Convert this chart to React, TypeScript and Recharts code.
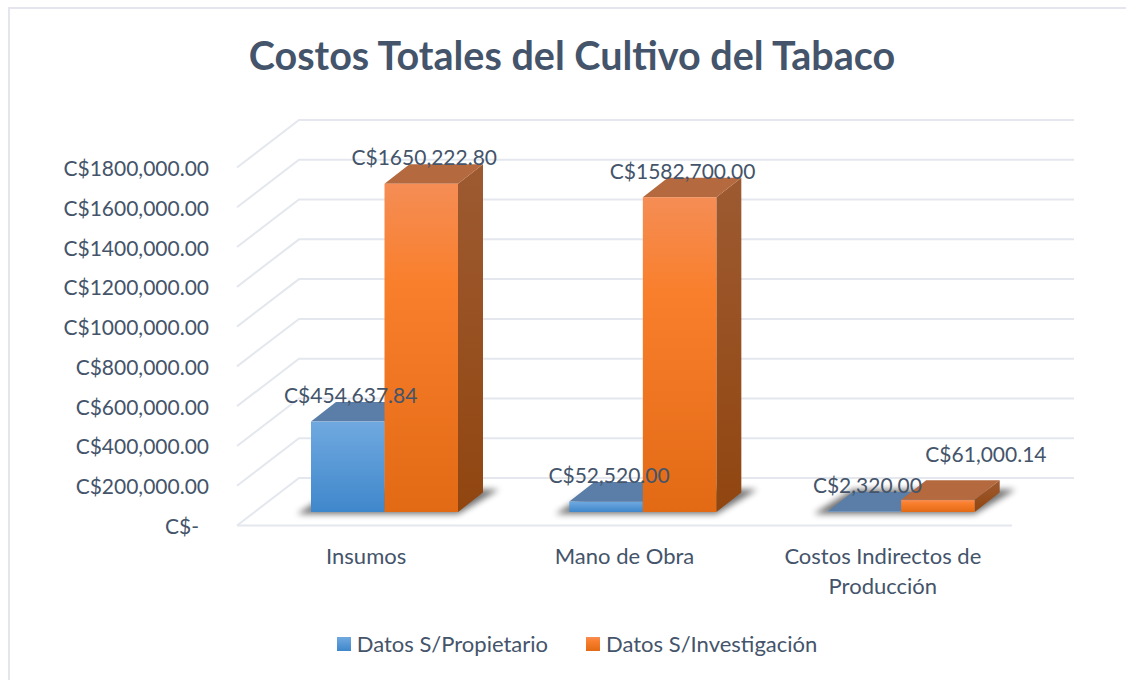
import { BarChart, Bar, XAxis, YAxis, CartesianGrid, Legend, LabelList } from 'recharts';

const categories = ['Insumos', 'Mano de Obra', 'Costos Indirectos de Producción'];
const propietario = [454637.84, 52520, 2320];
const investigacion = [1650222.8, 1582700, 61000.14];
const yTicks = [0, 200000, 400000, 600000, 800000, 1000000, 1200000, 1400000, 1600000, 1800000];

const propietarioLabels = ['C$454,637.84', 'C$52,520.00', 'C$2,320.00'];
const investigacionLabels = ['C$1650,222.80', 'C$1582,700.00', 'C$61,000.14'];
const tickLines: Record<string, string[]> = {
  'Costos Indirectos de Producción': ['Costos Indirectos de', 'Producción'],
};

const data = categories.map((name, i) => ({
  name,
  propietario: propietario[i],
  investigacion: investigacion[i],
}));

const FONT = 'Lato, Carlito, Calibri, sans-serif';
const TEXT = '#44546a';
const GRID = '#e4e7ee';

// floor / wall depth of the fake 3D box
const WALL_DX = 62;
const WALL_DY = 47.5;
// bars stand this far back from the front edge of the floor
const BAR_DX = 18;
const BAR_DY = 13.5;
// depth of a bar
const DEPTH_DX = 25;
const DEPTH_DY = 19.5;

function GridLine(props: any) {
  const { x1, x2, y1 } = props;
  const isFloor = Math.abs(y1 - 525.5) < 1;
  return (
    <g fill="none" stroke={GRID} strokeWidth={2}>
      <polyline points={`${x1},${y1} ${x1 + WALL_DX},${y1 - WALL_DY} ${x2 + WALL_DX},${y1 - WALL_DY}`} />
      {isFloor && <line x1={x1} y1={y1} x2={x2} y2={y1} />}
    </g>
  );
}

function Prism(props: any) {
  const { x, y, width, height, front, side, top, shadow } = props;
  const left = x + BAR_DX;
  const right = left + width;
  const t = y - BAR_DY;
  const b = y + height - BAR_DY;
  return (
    <g>
      {shadow && (
        <polygon
          points={`${left - 14},${b + 2} ${right + width},${b + 2} ${right + width + DEPTH_DX + 16},${b - DEPTH_DY - 3} ${left + DEPTH_DX},${b - DEPTH_DY - 3}`}
          fill="#000"
          opacity={0.55}
          filter="url(#floorShadow)"
        />
      )}
      <polygon
        points={`${right},${t} ${right + DEPTH_DX},${t - DEPTH_DY} ${right + DEPTH_DX},${b - DEPTH_DY} ${right},${b}`}
        fill={side}
      />
      <polygon
        points={`${left},${t} ${left + DEPTH_DX},${t - DEPTH_DY} ${right + DEPTH_DX},${t - DEPTH_DY} ${right},${t}`}
        fill={top}
      />
      <rect x={left} y={t} width={width} height={Math.max(height, 0.5)} fill={front} />
    </g>
  );
}

function PropietarioBar(props: any) {
  return <Prism {...props} front="url(#blueFront)" side="#3d6b98" top="#5a7ea8" shadow />;
}

function InvestigacionBar(props: any) {
  return <Prism {...props} front="url(#orangeFront)" side="url(#orangeSide)" top="#b4693f" />;
}

function NoBar() {
  return <g />;
}

function makeLabel(texts: string[]) {
  return function BarLabel(props: any) {
    const { x, y, width, index } = props;
    // the last orange label was dragged aside in the original
    const moved = texts[index] === 'C$61,000.14';
    return (
      <text
        x={x + BAR_DX + width / 2 + (moved ? 48 : 3)}
        y={y - BAR_DY - (moved ? 46 : 27)}
        textAnchor="middle"
        dominantBaseline="central"
        fill={TEXT}
        fontFamily={FONT}
        fontSize={21}
      >
        {texts[index]}
      </text>
    );
  };
}

function YTick(props: any) {
  const { x, y, payload } = props;
  const v = payload.value;
  return (
    <text x={v === 0 ? x - 30 : x - 20} y={y} textAnchor="end" dominantBaseline="central" fill={TEXT} fontFamily={FONT} fontSize={21}>
      {v === 0 ? 'C$-' : `C$${v / 1000},000.00`}
    </text>
  );
}

function XTick(props: any) {
  const { x, y, payload } = props;
  const lines = tickLines[payload.value] || [payload.value];
  return (
    <text x={x} y={y + 21} textAnchor="middle" fill={TEXT} fontFamily={FONT} fontSize={22} dominantBaseline="central">
      {lines.map((line, i) => (
        <tspan key={i} x={x} dy={i === 0 ? 0 : 30}>
          {line}
        </tspan>
      ))}
    </text>
  );
}

function LegendRow(props: any) {
  const items = (props.payload || []).filter((p: any) => p.type !== 'none');
  return (
    <div style={{ display: 'flex', justifyContent: 'center', gap: 38, fontFamily: FONT, fontSize: 22, color: TEXT }}>
      {items.map((p: any) => (
        <span key={p.value} style={{ display: 'flex', alignItems: 'center', gap: 6 }}>
          <svg width={14} height={14}>
            <rect width={14} height={14} fill={p.color} />
          </svg>
          {p.value}
        </span>
      ))}
    </div>
  );
}

export default function App() {
  return (
    <div style={{ position: 'absolute', left: 0, top: 0, width: 1126, height: 680, background: '#fff', overflow: 'hidden' }}>
      {/* chart frame, the bottom and right edges fall off the crop */}
      <div style={{ position: 'absolute', left: 8, top: 7, width: 1130, height: 690, border: '2px solid #e3e6ec', boxSizing: 'border-box' }} />
      <BarChart
        width={1126}
        height={680}
        data={data}
        margin={{ top: 167.5, right: 114, bottom: 94.5, left: 0 }}
        barSize={73.5}
        barGap={0}
        style={{ position: 'absolute', left: 0, top: 0 }}
      >
        <defs>
          <linearGradient id="blueFront" x1="0" y1="0" x2="0" y2="1">
            <stop offset="0%" stopColor="#70a9e0" />
            <stop offset="100%" stopColor="#3f87cb" />
          </linearGradient>
          <linearGradient id="orangeFront" x1="0" y1="0" x2="0" y2="1">
            <stop offset="0%" stopColor="#f58d55" />
            <stop offset="30%" stopColor="#f97f2c" />
            <stop offset="100%" stopColor="#e36a15" />
          </linearGradient>
          <linearGradient id="orangeSide" x1="0" y1="0" x2="0" y2="1">
            <stop offset="0%" stopColor="#9d5a31" />
            <stop offset="100%" stopColor="#914610" />
          </linearGradient>
          <filter id="floorShadow" x="-20%" y="-80%" width="140%" height="260%">
            <feGaussianBlur stdDeviation="3" />
          </filter>
        </defs>
        <text x={572} y={54} textAnchor="middle" dominantBaseline="central" fill={TEXT} fontFamily={FONT} fontSize={39.5} fontWeight={700}>
          Costos Totales del Cultivo del Tabaco
        </text>
        <CartesianGrid vertical={false} horizontal={(p: any) => <GridLine {...p} />} />
        <XAxis dataKey="name" height={60} axisLine={false} tickLine={false} interval={0} tick={<XTick />} />
        <XAxis dataKey="name" xAxisId="labels" hide />
        <YAxis width={237} domain={[0, 1800000]} ticks={yTicks} axisLine={false} tickLine={false} tick={<YTick />} />
        <Bar dataKey="propietario" name="Datos S/Propietario" fill="url(#blueFront)" shape={<PropietarioBar />} isAnimationActive={false} />
        <Bar dataKey="investigacion" name="Datos S/Investigación" fill="url(#orangeFront)" shape={<InvestigacionBar />} isAnimationActive={false} />
        {/* invisible twins on a second x axis so the labels paint above both bars */}
        <Bar xAxisId="labels" dataKey="propietario" shape={<NoBar />} legendType="none" isAnimationActive={false}>
          <LabelList content={makeLabel(propietarioLabels)} />
        </Bar>
        <Bar xAxisId="labels" dataKey="investigacion" shape={<NoBar />} legendType="none" isAnimationActive={false}>
          <LabelList content={makeLabel(investigacionLabels)} />
        </Bar>
        <Legend layout="horizontal" verticalAlign="middle" itemSorter={null} content={<LegendRow />} wrapperStyle={{ top: 630, left: 14, width: 1126 }} />
      </BarChart>
    </div>
  );
}
